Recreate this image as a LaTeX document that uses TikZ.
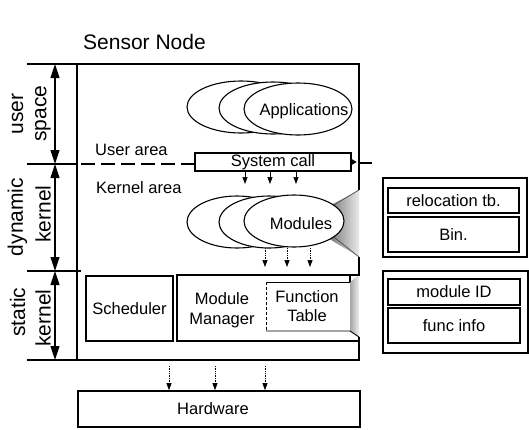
\documentclass[tikz,border=0pt]{standalone}
\usepackage{fontspec}
\setmainfont{Liberation Sans}
\usetikzlibrary{arrows.meta,shapes.geometric}

\begin{document}
\begin{tikzpicture}[x=1pt,y=-1pt,
  lbl/.style={inner sep=0pt, font=\fontsize{16.5}{19}\selectfont},
  biglbl/.style={inner sep=0pt, font=\fontsize{21}{24}\selectfont},
  box/.style={draw, line width=1.2pt, inner sep=0pt, fill=white, font=\fontsize{16.5}{19}\selectfont},
  outerbox/.style={draw, line width=2pt, inner sep=0pt},
  blob/.style={ellipse, draw, line width=1.1pt, fill=white, inner sep=0pt},
  frameline/.style={line width=1.6pt},
  colline/.style={line width=1.1pt},
  smalltip/.style={-{Triangle[length=7pt,width=5pt]}, line width=0.7pt},
  dottip/.style={smalltip, densely dotted},
  dimarrow/.style={{Triangle[length=14pt,width=9pt]}-{Triangle[length=14pt,width=9pt]}, line width=1.1pt},
]
\useasboundingbox (0,0) rectangle (529,429);

% title
\node[biglbl, anchor=base west] (title) at (83,49) {Sensor Node};

% layer column on the left
\draw[colline] (27,64) -- (77,64);
\draw[colline] (27,164) -- (77,164);
\draw[colline] (27,271) -- (81,271);
\draw[colline] (27,360) -- (77,360);
\coordinate (uTop) at (55,64);
\coordinate (uBot) at (55,164);
\coordinate (dBot) at (55,271);
\coordinate (sBot) at (55,360);
\draw[dimarrow] (uTop) -- (uBot);
\draw[dimarrow] (uBot) -- (dBot);
\draw[dimarrow] (dBot) -- (sBot);
\node[biglbl, rotate=90] (lu1) at (17.5,114) {user};
\node[biglbl, rotate=90] (lu2) at (43,113.5) {space};
\node[biglbl, rotate=90] (ld1) at (17.5,217) {dynamic};
\node[biglbl, rotate=90] (ld2) at (43,214) {kernel};
\node[biglbl, rotate=90] (ls1) at (17.5,312) {static};
\node[biglbl, rotate=90] (ls2) at (43,318) {kernel};

% module callout shading (behind the ellipses)
\shade[left color=black!70, right color=black!8] (359,190) -- (318,212) -- (318,232) -- (359,257) -- cycle;
% function table callout shading
\shade[left color=black!35, right color=black!6] (350,282) -- (359,275) -- (359,337) -- (350,331) -- cycle;

% node frame
\draw[frameline] (359,190) -- (359,64) -- (77,64) -- (77,360) -- (359,360) -- (359,337);
\draw[frameline] (359,257) -- (359,275) -- (350,275);

% user / kernel boundary
\node[box, minimum width=156, minimum height=18] (sys) at (273,162) {System call};
\coordinate (bStart) at (81,164);
\draw[line width=2pt, dash pattern=on 14pt off 6pt] (bStart) -- (sys.west |- bStart);
\fill (sys.east) ++(0,-3) -- ++(5,3) -- ++(-5,3) -- cycle;
\coordinate (eA) at (359,163);
\coordinate (eB) at (372,163);
\draw[line width=2pt] (eA) -- (eB);
\node[lbl, anchor=base west] (uarea) at (95,155) {User area};
\node[lbl, anchor=base west] (karea) at (96,193) {Kernel area};

% applications
\node[blob, minimum width=108, minimum height=52] (appA) at (241,107) {};
\node[blob, minimum width=108, minimum height=52] (appB) at (273,108) {};
\node[blob, minimum width=108, minimum height=52] (appC) at (298,109) {};
\node[lbl, anchor=base] (apptxt) at (304,115) {Applications};

% modules
\node[blob, minimum width=100, minimum height=52] (modA) at (237,222) {};
\node[blob, minimum width=100, minimum height=52] (modB) at (269,222) {};
\node[blob, minimum width=100, minimum height=52] (modC) at (294,221) {};
\node[lbl, anchor=base] (modtxt) at (301,229) {Modules};
\coordinate (cTop) at (359,190);
\coordinate (cBot) at (359,257);
\draw[gray!60!black, line width=0.7pt] (cTop) -- (modC.22);
\draw[gray!60!black, line width=0.7pt] (cBot) -- (modC.-22);

% system calls into the kernel
\coordinate (s1) at (245,184);
\coordinate (s2) at (270,184);
\coordinate (s3) at (296,184);
\draw[smalltip] (sys.south -| s1) -- (s1);
\draw[smalltip] (sys.south -| s2) -- (s2);
\draw[smalltip] (sys.south -| s3) -- (s3);

% modules register with the module manager
\coordinate (m1a) at (265,248);
\coordinate (m1b) at (265,267);
\coordinate (m2a) at (287,248);
\coordinate (m2b) at (287,267);
\coordinate (m3a) at (310,248);
\coordinate (m3b) at (310,267);
\draw[dottip] (m1a) -- (m1b);
\draw[dottip] (m2a) -- (m2b);
\draw[dottip] (m3a) -- (m3b);

% static kernel
\node[box, minimum width=87, minimum height=65] (sched) at (129.5,308.5) {Scheduler};
\draw[line width=1.2pt] (350,282) -- (350,275) -- (177,275) -- (177,341) -- (359,341);
\node[lbl, align=center, font=\fontsize{16.5}{20}\selectfont] (mm) at (222,310) {Module\\Manager};
\draw[line width=0.9pt] (350,282) -- (266,282);
\draw[line width=0.9pt] (266,331) -- (350,331) -- (359,337);
\draw[line width=0.9pt, dash pattern=on 3pt off 2pt] (266,282) -- (266,331);
\node[lbl, align=center, font=\fontsize{16.5}{19}\selectfont] (ft) at (307,306.5) {Function\\Table};

% hardware
\node[box, line width=1.7pt, minimum width=282, minimum height=36] (hw) at (219,409) {};
\node[lbl, anchor=base] (hwtxt) at (213,414) {Hardware};
\coordinate (h1) at (169,366);
\coordinate (h2) at (215,366);
\coordinate (h3) at (265,366);
\draw[dottip] (h1) -- (hw.north -| h1);
\draw[dottip] (h2) -- (hw.north -| h2);
\draw[dottip] (h3) -- (hw.north -| h3);

% loadable module image
\node[outerbox, minimum width=144, minimum height=79] (obA) at (455,217.5) {};
\node[box, minimum width=131, minimum height=25] (reloc) at (453.5,200.5) {relocation tb.};
\node[box, minimum width=131, minimum height=35] (bin) at (453.5,234.5) {Bin.};

% function table entry
\node[outerbox, minimum width=145, minimum height=82] (obB) at (455.5,312) {};
\node[box, minimum width=132, minimum height=26] (modid) at (454,292) {module ID};
\node[box, minimum width=132, minimum height=35] (finfo) at (454,325.5) {func info};
\end{tikzpicture}
\end{document}
